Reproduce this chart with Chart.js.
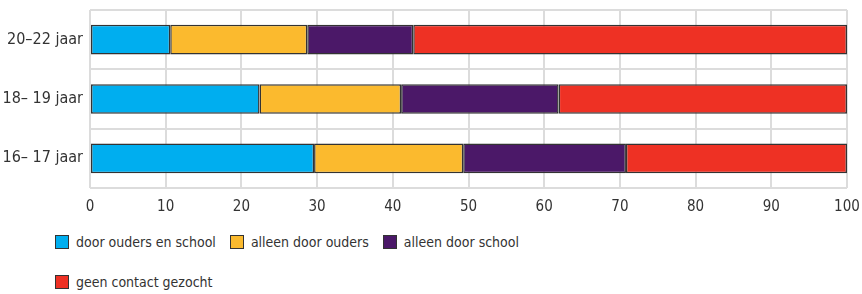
<!DOCTYPE html>
<html lang="nl">
<head>
<meta charset="utf-8">
<script src="https://cdn.jsdelivr.net/npm/chart.js@4"></script>
<style>
    html, body { margin: 0; padding: 0; background: #ffffff; }
    body { width: 862px; height: 294px; position: relative; overflow: hidden; }
    .chart-box { position: absolute; left: 0; top: 0; width: 862px; height: 225px; }
    .legend {
        position: absolute; left: 55px; top: 232px; width: 480px;
        display: flex; flex-wrap: wrap; column-gap: 14px; row-gap: 20px;
        font-family: 'DejaVu Sans Condensed', 'DejaVu Sans', sans-serif;
        font-stretch: condensed;
        font-size: 14px; color: #333333;
    }
    .legend-item { display: flex; align-items: center; height: 20px; white-space: nowrap; }
    .legend-box { width: 12px; height: 12px; border: 1px solid #333333; margin-right: 7px; }
</style>
</head>
<body>
<div class="chart-box"><canvas id="contactChart"></canvas></div>
<div class="legend" id="legend"></div>
<script>
// Categorieën en reeksen (percentages)
const categories = ['20–22 jaar', '18– 19 jaar', '16– 17 jaar'];
const seriesNames = ['door ouders en school', 'alleen door ouders', 'alleen door school', 'geen contact gezocht'];
const ouderEnSchool = [10.6, 22.4, 29.6];
const alleenOuders = [18.1, 18.7, 19.7];
const alleenSchool = [14.0, 20.8, 21.5];
const geenContact = [57.3, 38.1, 29.2];
const xTicks = [0, 10, 20, 30, 40, 50, 60, 70, 80, 90, 100];

const colors = ['#00aeef', '#fbba2e', '#4b1868', '#ee3124'];
const values = [ouderEnSchool, alleenOuders, alleenSchool, geenContact];

const fontFamily = "'DejaVu Sans Condensed', 'DejaVu Sans', sans-serif";

const datasets = seriesNames.map((name, i) => ({
    label: name,
    data: values[i],
    backgroundColor: colors[i],
    borderColor: '#333333',
    borderWidth: 1.5,
    borderSkipped: false,
    barPercentage: 0.5,
    categoryPercentage: 1
}));

const chart = new Chart(document.getElementById('contactChart'), {
    type: 'bar',
    data: { labels: categories, datasets: datasets },
    options: {
        indexAxis: 'y',
        responsive: true,
        maintainAspectRatio: false,
        animation: false,
        layout: { padding: { top: 10, right: 15, left: 0, bottom: 0 } },
        plugins: {
            legend: { display: false },
            tooltip: { enabled: false }
        },
        scales: {
            x: {
                stacked: true,
                min: 0,
                max: 100,
                afterBuildTicks: scale => { scale.ticks = xTicks.map(v => ({ value: v })); },
                grid: { color: '#dcdcdc', lineWidth: 2, drawTicks: false },
                border: { display: false },
                ticks: {
                    color: '#333333',
                    padding: 10,
                    maxRotation: 0,
                    font: { family: fontFamily, size: 15 }
                },
                afterFit: scale => {
                    scale.height = 37;
                    scale.paddingLeft = 0;
                    scale.paddingRight = 0;
                }
            },
            y: {
                stacked: true,
                grid: { color: '#dcdcdc', lineWidth: 2, drawTicks: false, offset: true },
                border: { display: false },
                ticks: {
                    color: '#333333',
                    padding: 7,
                    font: { family: fontFamily, size: 16 }
                },
                afterFit: scale => {
                    scale.width = 90;
                    scale.paddingTop = 0;
                    scale.paddingBottom = 0;
                }
            }
        }
    }
});

// Legenda in HTML, opgebouwd uit de datasets
const legend = document.getElementById('legend');
chart.data.datasets.forEach(ds => {
    const item = document.createElement('div');
    item.className = 'legend-item';
    item.innerHTML = `<span class="legend-box" style="background:${ds.backgroundColor}"></span><span>${ds.label}</span>`;
    legend.appendChild(item);
});
</script>
</body>
</html>
